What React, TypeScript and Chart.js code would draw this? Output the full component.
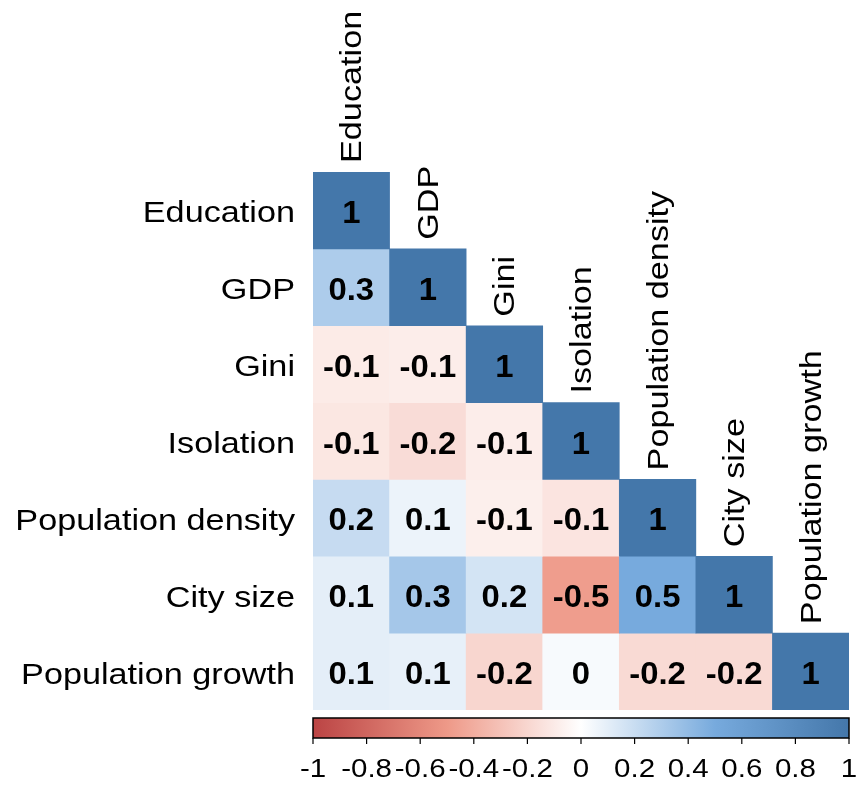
import React, { useEffect, useRef } from "react";
import { Chart, registerables } from "chart.js";

Chart.register(...registerables);

// ---- data ----
const variables = [
  "Education",
  "GDP",
  "Gini",
  "Isolation",
  "Population density",
  "City size",
  "Population growth",
];

// lower-triangle correlations (estimated; shown rounded to one decimal)
const rowEducation = [1];
const rowGDP = [0.3, 1];
const rowGini = [-0.1, -0.09, 1];
const rowIsolation = [-0.12, -0.17, -0.09, 1];
const rowPopDensity = [0.21, 0.07, -0.08, -0.13, 1];
const rowCitySize = [0.1, 0.33, 0.16, -0.48, 0.5, 1];
const rowPopGrowth = [0.1, 0.09, -0.2, 0.03, -0.18, -0.18, 1];

const corrRows = [
  rowEducation,
  rowGDP,
  rowGini,
  rowIsolation,
  rowPopDensity,
  rowCitySize,
  rowPopGrowth,
];

const colorbarTicks = [-1, -0.8, -0.6, -0.4, -0.2, 0, 0.2, 0.4, 0.6, 0.8, 1];
const paletteStops = [-1, -0.5, 0, 0.5, 1];
const paletteColors = ["#BB4444", "#EE9988", "#FFFFFF", "#77AADD", "#4477AA"];

// ---- helpers ----
const FONT = "'Liberation Sans', Arial, Helvetica, sans-serif";

function hexToRgb(h: string) {
  const n = parseInt(h.slice(1), 16);
  return [(n >> 16) & 255, (n >> 8) & 255, n & 255];
}

function colorFor(v: number) {
  for (let i = 0; i < paletteStops.length - 1; i++) {
    const a = paletteStops[i];
    const b = paletteStops[i + 1];
    if (v >= a && v <= b) {
      const t = (v - a) / (b - a);
      const ca = hexToRgb(paletteColors[i]);
      const cb = hexToRgb(paletteColors[i + 1]);
      const c = ca.map((x, k) => Math.round(x + (cb[k] - x) * t));
      return `rgb(${c[0]},${c[1]},${c[2]})`;
    }
  }
  return v < 0 ? paletteColors[0] : paletteColors[paletteColors.length - 1];
}

function fmt(v: number) {
  const n = Number(v.toFixed(1));
  return String(n === 0 ? 0 : n);
}

function drawText(
  ctx: CanvasRenderingContext2D,
  text: string,
  x: number,
  y: number,
  font: string,
  align: CanvasTextAlign,
  sx: number,
  rotate = false
) {
  ctx.save();
  ctx.translate(x, y);
  if (rotate) ctx.rotate(-Math.PI / 2);
  ctx.scale(sx, 1);
  ctx.font = font;
  ctx.fillStyle = "#000";
  ctx.textAlign = align;
  ctx.textBaseline = "middle";
  ctx.fillText(text, 0, 0);
  ctx.restore();
}

const corrPlugin = {
  id: "corrText",
  afterDraw(chart: any) {
    const ctx: CanvasRenderingContext2D = chart.ctx;
    const xs = chart.scales.x;
    const ys = chart.scales.y;

    // cell values
    corrRows.forEach((row, r) => {
      row.forEach((v, c) => {
        drawText(
          ctx,
          fmt(v),
          xs.getPixelForValue(c),
          ys.getPixelForValue(r) + 4,
          `bold 31px ${FONT}`,
          "center",
          1.06
        );
      });
    });

    // row labels
    variables.forEach((name, r) => {
      drawText(ctx, name, xs.left - 18, ys.getPixelForValue(r) + 4, `29px ${FONT}`, "right", 1.18);
    });

    // column labels (rotated, above diagonal cells)
    variables.forEach((name, c) => {
      const top = ys.getPixelForValue(c - 0.5);
      drawText(ctx, name, xs.getPixelForValue(c) + 2, top - 9, `29px ${FONT}`, "left", 1.18, true);
    });

    // colorbar: spans the cell grid, value -1..1
    const left = xs.left;
    const right = xs.right;
    const toPx = (t: number) => left + ((t + 1) / 2) * (right - left);
    const top = ys.bottom + 8;
    const h = 20;
    const grad = ctx.createLinearGradient(left, 0, right, 0);
    paletteStops.forEach((s, i) => grad.addColorStop((s + 1) / 2, paletteColors[i]));
    ctx.save();
    ctx.fillStyle = grad;
    ctx.fillRect(left, top, right - left, h);
    ctx.strokeStyle = "#000";
    ctx.lineWidth = 1.5;
    ctx.strokeRect(left, top, right - left, h);
    ctx.lineWidth = 1.2;
    colorbarTicks.forEach((t) => {
      const px = toPx(t);
      ctx.beginPath();
      ctx.moveTo(px, top + h);
      ctx.lineTo(px, top + h + 6);
      ctx.stroke();
    });
    ctx.restore();
    colorbarTicks.forEach((t) => {
      drawText(ctx, fmt(t), toPx(t), top + h + 32, `25px ${FONT}`, "center", 1.18);
    });
  },
};

export default function App() {
  const ref = useRef<HTMLCanvasElement | null>(null);

  useEffect(() => {
    if (!ref.current) return;
    const datasets = corrRows.map((row, r) => ({
      label: variables[r],
      data: variables.map((_, c) => (c < row.length ? [r - 0.5, r + 0.5] : null)) as any,
      backgroundColor: (ctx: any) => {
        const v = corrRows[ctx.datasetIndex]?.[ctx.dataIndex];
        return v == null ? "rgba(0,0,0,0)" : colorFor(v);
      },
      borderWidth: 0,
      barPercentage: 1,
      categoryPercentage: 1,
      grouped: false,
    }));

    const chart = new Chart(ref.current, {
      type: "bar",
      data: { labels: variables, datasets },
      options: {
        responsive: false,
        animation: false,
        events: [],
        layout: { padding: { top: 172, right: 7, left: 0, bottom: 76 } },
        plugins: { legend: { display: false }, tooltip: { enabled: false } },
        scales: {
          x: { type: "category", display: false, offset: true },
          y: {
            type: "linear",
            min: -0.5,
            max: 6.5,
            reverse: true,
            grid: { display: false },
            border: { display: false },
            ticks: { display: false },
            afterFit: (s: any) => {
              s.width = 313;
            },
          },
        },
      } as any,
      plugins: [corrPlugin],
    });
    return () => chart.destroy();
  }, []);

  return (
    <div style={{ position: "absolute", left: 0, top: 0, width: 856, height: 786 }}>
      <canvas ref={ref} width={856} height={786} />
    </div>
  );
}
